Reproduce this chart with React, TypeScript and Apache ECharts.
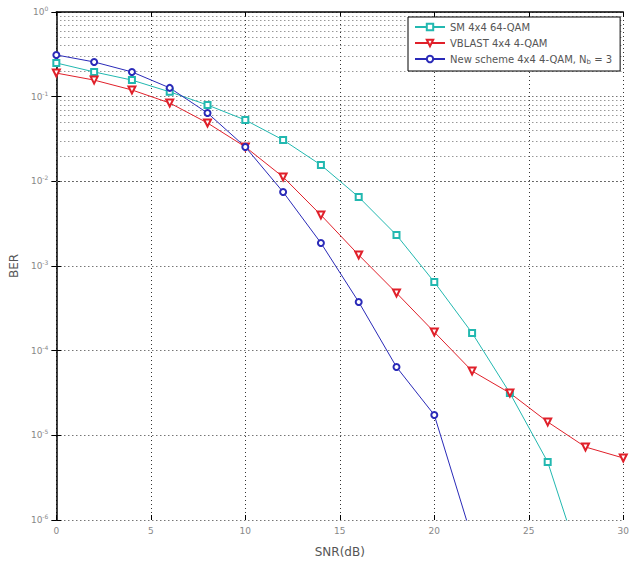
import React, { useEffect, useRef } from 'react';
import * as echarts from 'echarts';

const snrSM = [0, 2, 4, 6, 8, 10, 12, 14, 16, 18, 20, 22, 24, 26, 28];
const berSM = [0.25, 0.196, 0.157, 0.114, 0.0797, 0.053, 0.0308, 0.0156, 0.00653, 0.00232, 6.47e-4, 1.62e-4, 3.16e-5, 4.85e-6, 2.07e-7];

const snrVB = [0, 2, 4, 6, 8, 10, 12, 14, 16, 18, 20, 22, 24, 26, 28, 30];
const berVB = [0.19, 0.157, 0.12, 0.0842, 0.0489, 0.0255, 0.01125, 0.004, 0.00135, 4.8e-4, 1.66e-4, 5.75e-5, 3.16e-5, 1.44e-5, 7.28e-6, 5.4e-6];

const snrNew = [0, 2, 4, 6, 8, 10, 12, 14, 16, 18, 20, 22];
const berNew = [0.311, 0.257, 0.196, 0.127, 0.0641, 0.0255, 0.00748, 0.00187, 3.76e-4, 6.41e-5, 1.74e-5, 6.1e-7];

const seriesNames = ['SM 4x4 64-QAM', 'VBLAST 4x4 4-QAM', 'New scheme 4x4 4-QAM, N_b=3'];

// MATLAB-style minor grid values (2..9 x 10^k)
const minorMultipliers = [2, 3, 4, 5, 6, 7, 8, 9];
const decadeExponents = [-6, -5, -4, -3, -2, -1];

const FONT = 'DejaVu Sans';

export default function App() {
  const ref = useRef<HTMLDivElement>(null);
  useEffect(() => {
    document.body.style.margin = '0';
    if (!ref.current) return;
    const chart = echarts.init(ref.current, undefined, { renderer: 'svg' });
    const pairs = (xs: number[], ys: number[]) => xs.map((x, i) => [x, ys[i]]);
    const minorLines: any[] = [];
    decadeExponents.forEach((e) => {
      minorMultipliers.forEach((m) => {
        minorLines.push({ yAxis: m * Math.pow(10, e) });
      });
    });
    const gridDot = { color: '#333', width: 1, type: [1, 3] as any };
    chart.setOption({
      animation: false,
      backgroundColor: '#fff',
      textStyle: { fontFamily: FONT },
      grid: { left: 53, right: 7, top: 12, bottom: 44, containLabel: false },
      legend: {
        left: 408,
        top: 17,
        orient: 'vertical',
        backgroundColor: '#fff',
        borderColor: '#000',
        borderWidth: 1,
        borderRadius: 0,
        padding: [5, 8, 6, 6],
        itemWidth: 30,
        itemHeight: 8,
        itemGap: 6,
        data: seriesNames,
        formatter: (name: string) =>
          name === seriesNames[2] ? 'New scheme 4x4 4-QAM, N{sub|b} = 3' : name,
        textStyle: {
          fontFamily: FONT,
          fontSize: 10,
          color: '#555',
          rich: {
            sub: { fontSize: 7, color: '#555', fontFamily: FONT, padding: [5, 0, 0, 0] },
          },
        },
      },
      xAxis: [
        {
          type: 'value',
          min: 0,
          max: 30,
          interval: 5,
          name: 'SNR(dB)',
          nameLocation: 'middle',
          nameGap: 26,
          nameTextStyle: { fontSize: 12, color: '#555', fontFamily: FONT },
          axisLine: { show: false },
          axisTick: { show: true, inside: true, length: 5, lineStyle: { color: '#000' } },
          axisLabel: { fontSize: 9, color: '#888', margin: 6, fontFamily: FONT },
          splitLine: { show: true, lineStyle: gridDot },
        },
        {
          type: 'value',
          position: 'top',
          min: 0,
          max: 30,
          interval: 5,
          axisLine: { show: true, lineStyle: { color: '#000', width: 1.5 } },
          axisTick: { show: true, inside: true, length: 5, lineStyle: { color: '#000' } },
          axisLabel: { show: false },
          splitLine: { show: false },
        },
      ],
      yAxis: [
        {
          type: 'log',
          logBase: 10,
          min: 1e-6,
          max: 1,
          splitNumber: 6,
          name: 'BER',
          nameLocation: 'middle',
          nameGap: 25,
          nameTextStyle: { fontSize: 12, color: '#555', fontFamily: FONT },
          axisLine: { show: false },
          axisTick: { show: true, inside: true, length: 5, lineStyle: { color: '#000' } },
          axisLabel: {
            margin: 8,
            fontFamily: FONT,
            formatter: (v: number) => {
              const e = Math.round(Math.log10(v));
              return `{b|10}{s|${e}}`;
            },
            rich: {
              b: { fontSize: 9, color: '#888', fontFamily: FONT },
              s: { fontSize: 6, color: '#888', fontFamily: FONT, padding: [0, 0, 7, 0] },
            },
          },
          splitLine: { show: true, lineStyle: gridDot },
        },
        {
          type: 'log',
          logBase: 10,
          min: 1e-6,
          max: 1,
          splitNumber: 6,
          position: 'right',
          axisLine: { show: true, lineStyle: { color: '#000', width: 1.5 } },
          axisTick: { show: true, inside: true, length: 5, lineStyle: { color: '#000' } },
          axisLabel: { show: false },
          splitLine: { show: false },
        },
      ],
      series: [
        {
          name: seriesNames[0],
          type: 'line',
          data: pairs(snrSM, berSM),
          symbol: 'emptyRect',
          symbolSize: 6,
          lineStyle: { color: '#22b8b0', width: 1 },
          itemStyle: { color: '#22b8b0', borderWidth: 1 },
          clip: true,
          z: 3,
        },
        {
          name: seriesNames[1],
          type: 'line',
          data: pairs(snrVB, berVB),
          symbol: 'emptyTriangle',
          symbolRotate: 180,
          symbolSize: 7,
          lineStyle: { color: '#e0202a', width: 1 },
          itemStyle: { color: '#e0202a', borderWidth: 1 },
          clip: true,
          z: 3,
        },
        {
          name: seriesNames[2],
          type: 'line',
          data: pairs(snrNew, berNew),
          symbol: 'emptyCircle',
          symbolSize: 6,
          lineStyle: { color: '#2a2ab8', width: 1 },
          itemStyle: { color: '#2a2ab8', borderWidth: 1 },
          clip: true,
          z: 3,
          markLine: {
            silent: true,
            symbol: ['none', 'none'],
            label: { show: false },
            lineStyle: { color: '#666', width: 1, type: [1, 3] },
            data: minorLines,
            z: 1,
          },
        },
      ],
    });
    return () => chart.dispose();
  }, []);
  return <div ref={ref} style={{ width: 632, height: 564, position: 'absolute', left: 0, top: 0 }} />;
}
